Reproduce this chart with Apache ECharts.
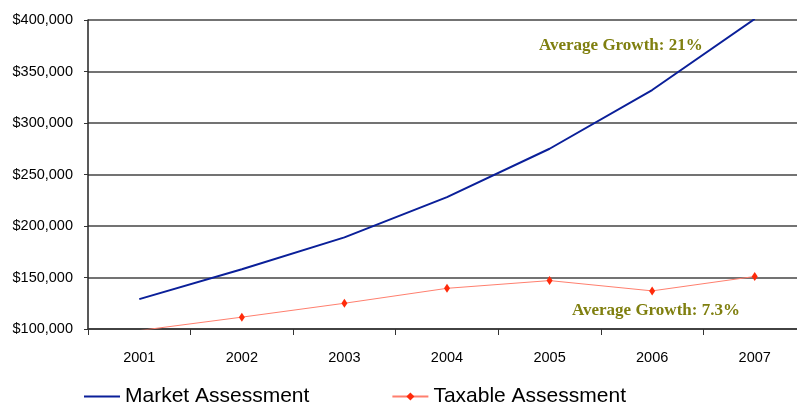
<!DOCTYPE html>
<html>
<head>
<meta charset="utf-8">
<script src="https://cdn.jsdelivr.net/npm/echarts@6/dist/echarts.min.js"></script>
<style>
  html, body { margin: 0; padding: 0; background: #fff; overflow: hidden; }
  #chart { width: 806px; height: 412px; }
</style>
</head>
<body>
<div id="chart"></div>
<script>
// Assessment values by year
const years = ['2001', '2002', '2003', '2004', '2005', '2006', '2007'];
const marketAssessment = [129000, 158000, 189000, 228000, 275000, 332000, 401000];
const taxableAssessment = [98500, 111500, 125000, 139500, 147000, 137000, 151000];
const yTicks = { min: 100000, max: 400000, step: 50000 };
const marketNote = 'Average Growth: 21%';
const taxableNote = 'Average Growth: 7.3%';

const chart = echarts.init(document.getElementById('chart'), null, { renderer: 'canvas' });
const sans = '"Liberation Sans Narrow", "Liberation Sans", Arial, sans-serif';
const noteFont = '"Liberation Serif", "DejaVu Serif", serif';

chart.setOption({
  animation: false,
  backgroundColor: '#ffffff',
  grid: { left: 88, right: 0, top: 20, bottom: 83, containLabel: false },
  xAxis: {
    type: 'category',
    data: years,
    boundaryGap: true,
    axisLine: { lineStyle: { color: '#333', width: 1.5 } },
    axisTick: { show: true, length: 6, lineStyle: { color: '#333' } },
    axisLabel: { color: '#000', fontFamily: sans, fontSize: 14.5, margin: 21 }
  },
  yAxis: {
    type: 'value',
    min: yTicks.min,
    max: yTicks.max,
    interval: yTicks.step,
    axisLine: { show: true, lineStyle: { color: '#222', width: 1.5 } },
    axisTick: { show: true, length: 4, lineStyle: { color: '#333' } },
    splitLine: { lineStyle: { color: '#444', width: 1.5 } },
    axisLabel: {
      color: '#000', fontFamily: sans, fontSize: 14.5, margin: 15,
      formatter: v => '$' + v.toLocaleString('en-US')
    }
  },
  legend: {
    bottom: 0,
    left: 78,
    itemGap: 82,
    itemWidth: 36,
    itemHeight: 10,
    textStyle: { color: '#000', fontFamily: sans, fontSize: 21, padding: [0, 0, 0, 0] },
    data: [
      { name: 'Market Assessment', itemStyle: { opacity: 0 } },
      { name: 'Taxable Assessment' }
    ]
  },
  series: [
    {
      name: 'Market Assessment',
      type: 'line',
      data: marketAssessment,
      symbol: 'none',
      lineStyle: { color: '#0a1f99', width: 2 },
      itemStyle: { color: '#0a1f99' },
      z: 3
    },
    {
      name: 'Taxable Assessment',
      type: 'line',
      data: taxableAssessment,
      symbol: 'diamond',
      symbolSize: [6, 9],
      lineStyle: { color: '#ff7f6e', width: 1 },
      itemStyle: { color: '#ff2a0a' },
      z: 4
    }
  ],
  graphic: [
    {
      type: 'text', left: 539, top: 37,
      style: { text: marketNote, fill: '#7f7f0f', font: 'bold 17px ' + noteFont }
    },
    {
      type: 'text', left: 572, top: 302,
      style: { text: taxableNote, fill: '#7f7f0f', font: 'bold 17px ' + noteFont }
    }
  ]
});
</script>
</body>
</html>
